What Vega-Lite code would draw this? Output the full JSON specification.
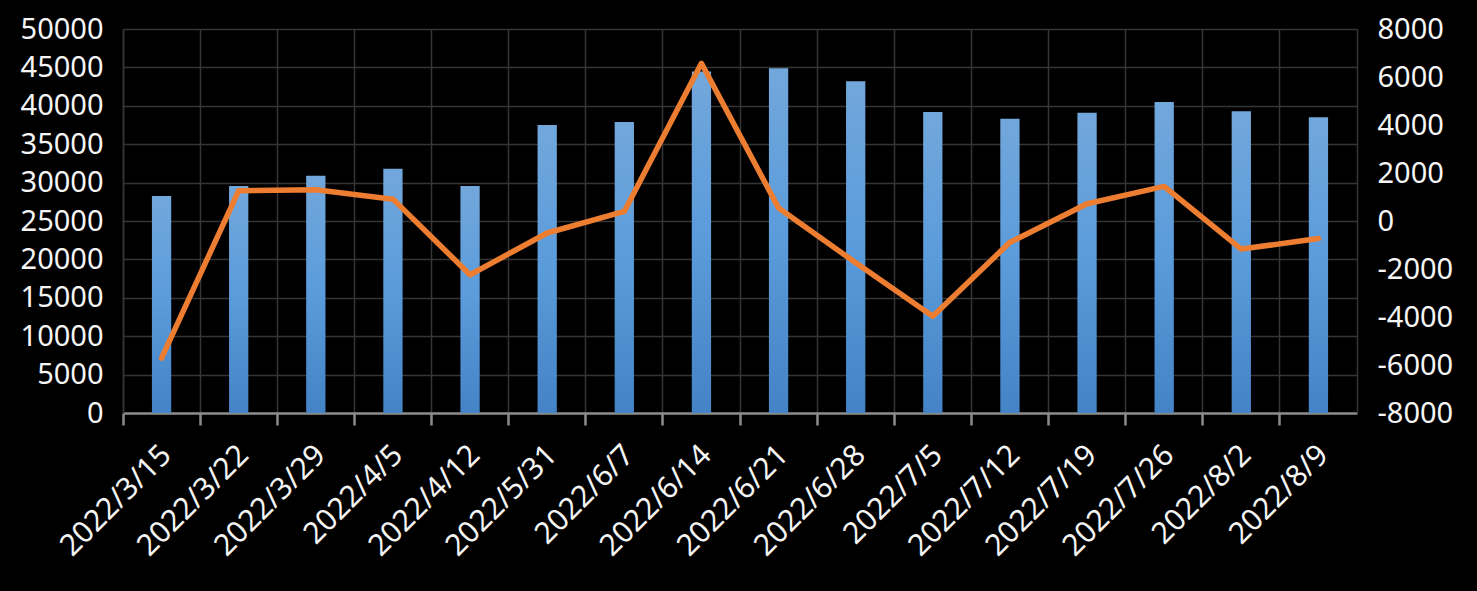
{
  "$schema": "https://vega.github.io/schema/vega-lite/v6.json",
  "autosize": "none",
  "width": 1234,
  "height": 384,
  "padding": {"left": 123, "top": 29, "right": 120, "bottom": 178},
  "background": "#000000",
  "config": {
    "view": {"stroke": null},
    "axis": {"labelFont": "Noto Sans", "labelFontSize": 29, "labelColor": "#f5f5f5", "titleColor": "#f5f5f5"}
  },
  "data": {
    "values": [
      {"date": "2022/3/15", "bar": 28270, "line": -5710},
      {"date": "2022/3/22", "bar": 29570, "line": 1260},
      {"date": "2022/3/29", "bar": 30880, "line": 1300},
      {"date": "2022/4/5", "bar": 31790, "line": 910},
      {"date": "2022/4/12", "bar": 29570, "line": -2240},
      {"date": "2022/5/31", "bar": 37500, "line": -500},
      {"date": "2022/6/7", "bar": 37900, "line": 400},
      {"date": "2022/6/14", "bar": 44450, "line": 6570},
      {"date": "2022/6/21", "bar": 44900, "line": 540},
      {"date": "2022/6/28", "bar": 43200, "line": -1740},
      {"date": "2022/7/5", "bar": 39200, "line": -3970},
      {"date": "2022/7/12", "bar": 38300, "line": -890},
      {"date": "2022/7/19", "bar": 39100, "line": 720},
      {"date": "2022/7/26", "bar": 40500, "line": 1440},
      {"date": "2022/8/2", "bar": 39300, "line": -1170},
      {"date": "2022/8/9", "bar": 38500, "line": -730}
    ]
  },
  "encoding": {
    "x": {
      "field": "date", "type": "nominal", "sort": null,
      "scale": {"paddingInner": 0, "paddingOuter": 0},
      "axis": {
        "title": null, "bandPosition": 0, "labelAngle": -45, "labelAlign": "right", "labelBaseline": "middle",
        "labelPadding": 25, "labelOffset": 5, "labelFontSize": 30,
        "grid": true, "gridColor": "#353535", "gridWidth": 1.5,
        "domainColor": "#8c8c8c", "domainWidth": 2.5,
        "tickColor": "#8c8c8c", "tickWidth": 2.5, "tickSize": 12
      }
    }
  },
  "layer": [
    {
      "mark": {
        "type": "bar", "width": {"band": 0.25},
        "color": {"gradient": "linear", "x1": 0, "y1": 0, "x2": 0, "y2": 1,
          "stops": [{"offset": 0, "color": "#72a7db"}, {"offset": 0.5, "color": "#5a9bdb"}, {"offset": 1, "color": "#4483c5"}]}
      },
      "encoding": {
        "y": {
          "field": "bar", "type": "quantitative",
          "scale": {"domain": [0, 50000], "nice": false},
          "axis": {"title": null, "values": [0,5000,10000,15000,20000,25000,30000,35000,40000,45000,50000],
            "labelExpr": "'' + datum.value", "grid": true, "gridColor": "#353535", "gridWidth": 1.5, "ticks": false,
            "labelPadding": 20, "domainColor": "#353535", "domainWidth": 1.5}
        }
      }
    },
    {
      "mark": {"type": "line", "color": "#ed7d31", "strokeWidth": 5.5, "strokeJoin": "round", "strokeCap": "round"},
      "encoding": {
        "y": {
          "field": "line", "type": "quantitative",
          "scale": {"domain": [-8000, 8000], "nice": false},
          "axis": {"orient": "right", "title": null, "values": [-8000,-6000,-4000,-2000,0,2000,4000,6000,8000],
            "labelExpr": "'' + datum.value", "grid": false, "ticks": false, "labelPadding": 20,
            "domainColor": "#353535", "domainWidth": 1.5}
        }
      }
    }
  ],
  "resolve": {"scale": {"y": "independent"}}
}
